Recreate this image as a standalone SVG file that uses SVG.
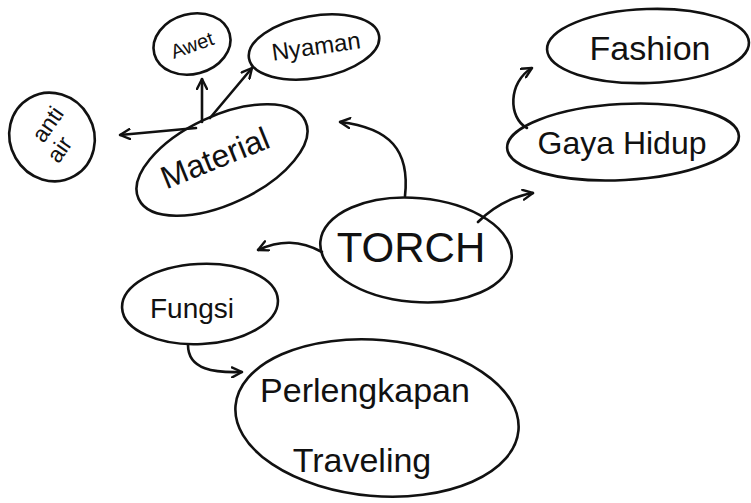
<svg xmlns="http://www.w3.org/2000/svg" width="751" height="503" viewBox="0 0 751 503">
<defs>
<style>
.n{fill:none;stroke:#111;stroke-width:2.6}
.c{fill:none;stroke:#111;stroke-width:2.6;stroke-linecap:round;marker-end:url(#ah)}
text{font-family:"Liberation Sans","DejaVu Sans",sans-serif;fill:#111;text-anchor:middle;dominant-baseline:central}
</style>
<marker id="ah" viewBox="0 0 12 12" refX="11" refY="6" markerWidth="12" markerHeight="12" markerUnits="userSpaceOnUse" orient="auto">
<path d="M1,1 L11,6 L1,11" fill="none" stroke="#111" stroke-width="2.4" stroke-linecap="round" stroke-linejoin="round"/>
</marker>
</defs>
<rect width="751" height="503" fill="#fff"/>
<g id="connectors">
<path class="c" d="M196,128 L120,135"/>
<path class="c" d="M202,122 L202,79"/>
<path class="c" d="M210,118 L252,68"/>
<path class="c" d="M405,196 C410,150 390,128 340,122"/>
<path class="c" d="M322,252 C300,240 280,240 258,250"/>
<path class="c" d="M478,222 C492,208 510,197 533,193"/>
<path class="c" d="M527,128 C508,118 508,82 532,68"/>
<path class="c" d="M188,345 C188,370 215,373 242,372"/>
</g>
<g id="awet">
<ellipse class="n" cx="192" cy="44" rx="39" ry="30" transform="rotate(-15 192 44)"/>
<text x="192" y="45" font-size="20" transform="rotate(-20 192 45)">Awet</text>
</g>
<g id="nyaman">
<ellipse class="n" cx="314" cy="47" rx="66" ry="31" transform="rotate(-10 314 47)"/>
<text x="316" y="46" font-size="24" transform="rotate(-8 316 46)">Nyaman</text>
</g>
<g id="anti-air">
<ellipse class="n" cx="52" cy="137" rx="42" ry="45" transform="rotate(-30 52 137)"/>
<text x="52" y="137" font-size="23" transform="rotate(-55 52 137)"><tspan x="60" dy="-11">anti</tspan><tspan x="46" dy="24">air</tspan></text>
</g>
<g id="material">
<ellipse class="n" cx="222" cy="160" rx="92" ry="44" transform="rotate(-25 222 160)"/>
<text x="215" y="158" font-size="32" transform="rotate(-22 215 158)">Material</text>
</g>
<g id="fashion">
<ellipse class="n" cx="648" cy="46" rx="101" ry="37" transform="rotate(-2 648 46)"/>
<text x="650" y="48" font-size="34">Fashion</text>
</g>
<g id="gaya-hidup">
<ellipse class="n" cx="623" cy="142" rx="116" ry="38" transform="rotate(-3 623 142)"/>
<text x="622" y="143" font-size="32">Gaya Hidup</text>
</g>
<g id="torch">
<ellipse class="n" cx="416" cy="250" rx="96" ry="52" transform="rotate(5 416 250)"/>
<text x="411" y="247" font-size="42">TORCH</text>
</g>
<g id="fungsi">
<ellipse class="n" cx="200" cy="304" rx="78" ry="40" transform="rotate(-3 200 304)"/>
<text x="192" y="308" font-size="28">Fungsi</text>
</g>
<g id="perlengkapan-traveling">
<ellipse class="n" cx="377" cy="418" rx="142" ry="78" transform="rotate(5 377 418)"/>
<text x="365" y="390" font-size="34">Perlengkapan</text>
<text x="362" y="460" font-size="34">Traveling</text>
</g>
</svg>
